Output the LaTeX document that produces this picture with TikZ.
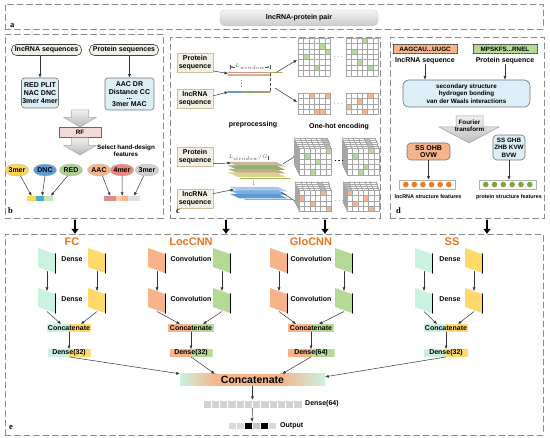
\documentclass[tikz,border=0pt]{standalone}
\usepackage{fontspec}
\setmainfont{Liberation Sans}
\newfontfamily\letrapanel{Liberation Serif}
\usetikzlibrary{arrows.meta,positioning,calc,shapes.geometric}
\definecolor{menta}{HTML}{C9F2E0}
\definecolor{amarillo}{HTML}{FFDA6A}
\definecolor{naranja}{HTML}{F7B38A}
\definecolor{verdec}{HTML}{B4DA96}
\definecolor{titulo}{HTML}{E8731E}
\definecolor{celeste}{HTML}{DDEFF6}
\definecolor{crema}{HTML}{F4F2E6}
\definecolor{rosa}{HTML}{F2DBD9}
\definecolor{caqui}{HTML}{C7B78C}
\definecolor{marco}{HTML}{8C8C8C}
\definecolor{oro}{HTML}{FFD44F}
\definecolor{azulb}{HTML}{5B9BD5}
\definecolor{azulc}{HTML}{4BACC6}
\definecolor{verdeb}{HTML}{A9D18E}
\definecolor{verdel}{HTML}{9BBB59}
\definecolor{salmon}{HTML}{E8877E}
\definecolor{rojizo}{HTML}{D9908C}
\definecolor{gris}{HTML}{D0D0D0}
\definecolor{punton}{HTML}{EC7B23}
\definecolor{puntov}{HTML}{78A640}
\definecolor{capa1}{HTML}{C9B79C}
\definecolor{capa2}{HTML}{8FB070}
\definecolor{capa3}{HTML}{C2A98E}
\definecolor{capa4}{HTML}{DAD58C}
\definecolor{azul1}{HTML}{A8CBEA}
\definecolor{azul2}{HTML}{7EB0DF}

\tikzset{
  panel/.style={rectangle,draw=marco,dash pattern=on 6pt off 3.5pt,line width=0.8pt,inner sep=0pt,outer sep=0pt},
  letra/.style={font=\fontsize{8.5}{8.5}\selectfont\letrapanel\bfseries,inner sep=0pt,anchor=base west},
  txt/.style={font=\fontsize{7}{7.8}\selectfont\bfseries,align=center,inner sep=0pt},
  chico/.style={font=\fontsize{6.3}{7.4}\selectfont\bfseries,align=center,inner sep=0pt},
  pildora/.style={txt,draw=black!75,fill=crema,rounded corners=5pt,minimum height=11,line width=0.6pt},
  cajab/.style={txt,draw=black!55,fill=celeste,rounded corners=3pt,line width=0.6pt},
  secc/.style={txt,draw=caqui,fill=crema,dash pattern=on 2pt off 1pt,line width=0.7pt,minimum width=36,minimum height=19},
  secd/.style={chico,draw=black!70,dash pattern=on 2pt off 1pt,line width=0.6pt,minimum width=64,minimum height=9},
  elip/.style={txt,ellipse,minimum width=23,minimum height=12,draw=black!25,line width=0.4pt},
  celda/.style={inner sep=0pt,minimum height=5},
  duo/.style 2 args={txt,inner xsep=1pt,minimum height=7.5,
     path picture={\fill[#1] (path picture bounding box.south west) rectangle (path picture bounding box.north);
                   \fill[#2] (path picture bounding box.south) rectangle (path picture bounding box.north east);}},
  flecha/.style={-{Latex[length=3.5pt,width=3pt]},black!80,line width=0.5pt},
  gruesa/.style={-{Latex[length=5pt,width=8pt]},line width=2.2pt},
  titcol/.style={font=\fontsize{11}{11}\selectfont\bfseries,text=titulo,inner sep=0pt},
  linea/.style={gray!70,line width=0.35pt},
}

% rejilla one-hot: x0, y0, filas, color, celdas (col/fila)
\newcommand{\rejilla}[5]{%
  \fill[white] (#1,#2) rectangle ++(32.4,#3*5.4);
  \fill[white] (#1+48,#2) rectangle ++(32.4,#3*5.4);
  \foreach \c/\r in {#5} {\pgfmathsetmacro\xx{#1+\c*5.4+(\c>5)*15.6}
    \fill[#4] (\xx,#2+\r*5.4) rectangle ++(5.4,5.4);}
  \foreach \k in {0,...,6} {
    \draw[linea] (#1+\k*5.4,#2) -- ++(0,#3*5.4);
    \draw[linea] (#1+48+\k*5.4,#2) -- ++(0,#3*5.4);}
  \foreach \k in {0,...,#3} {
    \draw[linea] (#1,#2+\k*5.4) -- ++(32.4,0);
    \draw[linea] (#1+48,#2+\k*5.4) -- ++(32.4,0);}
}
% capa de red: nombre, x, y, color
\newcommand{\capa}[4]{%
  \fill[#4] (#2,#3) -- ++(17,6) -- ++(0,19) -- ++(-17,-6) -- cycle;
  \draw[line width=1.5pt] (#2+17.6,#3+6) -- ++(0,19);
  \coordinate (#1t) at (#2+9,#3+3);
  \coordinate (#1b) at (#2+9,#3+23.5);
}
% flecha gris: x centro, y arriba
\newcommand{\flechagris}[2]{%
  \shadedraw[top color=gray!12,bottom color=gray!55,draw=gray!70,line width=0.5pt]
    (#1-8.5,#2) -- (#1+8.5,#2) -- (#1+8.5,#2+7.5) -- (#1+16,#2+7.5) -- (#1,#2+17)
    -- (#1-16,#2+7.5) -- (#1-8.5,#2+7.5) -- cycle;
}

\begin{document}
\begin{tikzpicture}[x=1pt,y=-1pt,>=Latex,line cap=round]
  \useasboundingbox (0,0) rectangle (550,438);
  % --- paneles ---
  \node[panel,minimum width=538,minimum height=25] (pa) at (274,16.5) {};
  \node[panel,minimum width=158,minimum height=184] (pb) at (84,126) {};
  \node[panel,minimum width=210,minimum height=181] (pc) at (275,127.5) {};
  \node[panel,minimum width=154,minimum height=181] (pd) at (467,127.5) {};
  \node[panel,minimum width=538,minimum height=201] (pe) at (274,334.5) {};
  \node[letra] at ([shift={(5,-1.5)}]pa.south west) {a};
  \node[letra] at ([shift={(3,-4)}]pb.south west) {b};
  \node[letra] at ([shift={(6,-4)}]pc.south west) {c};
  \node[letra] at ([shift={(6,-4)}]pd.south west) {d};
  \node[letra] at ([shift={(4,-5)}]pe.south west) {e};
  \node[txt,minimum width=158,minimum height=16,rounded corners=5pt,draw=gray!45,
        top color=gray!8,bottom color=gray!42] (par) at (299,18) {lncRNA-protein pair};
  % --- flechas entre paneles ---
  \foreach \x/\n in {75/1,226/2,325/3,487/4}{
    \coordinate (s\n) at (\x,220.5);
    \draw[gruesa] (s\n) -- (s\n |- pe.north);
  }
  % --- panel b: rasgos manuales ---
  \node[pildora,minimum width=70] (bl) at (46.5,50) {lncRNA sequences};
  \node[pildora,minimum width=69] (bp) at (124,50) {Protein sequences};
  \node[cajab,minimum width=37,minimum height=30] (bf1) at (40,93) {RED PLIT\\NAC DNC\\3mer 4mer};
  \node[cajab,minimum width=49,minimum height=32] (bf2) at (129.5,94)
       {AAC DR\\Distance CC\\[-2pt]...\\[-1pt]3mer MAC};
  \draw[flecha] (bl.south -| bf1.north) -- (bf1.north);
  \draw[flecha] (bp.south -| bf2.north) -- (bf2.north);
  \flechagris{80}{110}
  \node[chico,draw=black!60,fill=rosa,minimum width=42,minimum height=9.5,line width=0.5pt] (brf) at (80,132.5) {RF};
  \flechagris{80}{138}
  \node[chico] (bsel) at (126,150.5) {Select hand-design\\features};
  \foreach \c/\t/\x [count=\i] in {oro/3mer/17,azulb/DNC/45,verdeb/RED/71,naranja/AAC/99,salmon/4mer/122,gris/3mer/147}
    \node[elip,fill=\c] (e\i) at (\x,170) {\t};
  \foreach \c [count=\i] in {oro,oro,azulc,azulc,verdeb!60,verdeb!60}
    \node[celda,minimum width=4.35,fill=\c] (bl\i) at (24.8+\i*4.35,198.5) {};
  \foreach \c [count=\i] in {rojizo,rojizo,naranja!70,naranja,gray!25,gray!25}
    \node[celda,minimum width=6,fill=\c] (br\i) at (101+\i*6,198.5) {};
  \draw[flecha] (e1.-60) -- (bl1.north east);
  \draw[flecha] (e2.south) -- (bl4.north);
  \draw[flecha] (e3.-120) -- (bl6.north);
  \draw[flecha] (e4.-60) -- (br1.north east);
  \draw[flecha] (e5.south) -- (br3.north east);
  \draw[flecha] (e6.-120) -- (br5.north east);
  % --- panel c: ventanas y one-hot ---
  \node[secc] (cp1) at (195,62.5) {Protein\\sequence};
  \node[secc] (cl1) at (195,99) {lncRNA\\sequence};
  \node[secc] (cp2) at (195,157) {Protein\\sequence};
  \node[secc] (cl2) at (195,198.5) {lncRNA\\sequence};
  \draw[rojizo,line width=1.1pt] (228,72.8) -- (270,72.8);
  \draw[caqui,line width=1.6pt] (228,75.3) -- (270,75.3);
  \draw[verdel,line width=1.1pt] (270,72.3) -- (282,72.3);
  \draw[azulb,line width=1.6pt] (228,92) -- (242,92);
  \draw[verdel!70!gray,line width=1.6pt] (242,92) -- (270,92);
  \draw[azulb,dotted,line width=0.8pt] (241,80) -- (241,88);
  \draw[black!70,densely dashed,line width=0.4pt] (270,73) -- (270,92);
  \draw[|<->|,>={Latex[length=2pt,width=2pt]},line width=0.4pt,black!70] (230,67) --
     node[fill=white,inner sep=0.5pt,font=\fontsize{5}{5}\selectfont]{$L_{window}$} (270,67);
  \coordinate (v1) at (228,73.5); \coordinate (v2) at (228,92);
  \draw[flecha] (cp1.-25) -- (v1);
  \draw[flecha] (cl1.10) -- (v2);
  \coordinate (w1) at (276,72.5); \coordinate (g1) at (297,60);
  \coordinate (w2) at (275,88);   \coordinate (g2) at (297,102);
  \draw[flecha] (w1) -- (g1);
  \draw[flecha] (w2) -- (g2);
  \rejilla{298}{38}{7}{verdec}{4/1,5/2,1/3,3/5,9/0,7/2,8/4,10/5}
  \rejilla{298}{93}{4}{naranja}{2/0,5/0,3/3,4/3,6/2,8/1,9/3,10/0}
  \node[font=\fontsize{6}{6}\selectfont] (pt1) at (338.2,56.9) {$\cdots$};
  \node[font=\fontsize{6}{6}\selectfont] (pt2) at (338.2,103.8) {$\cdots$};
  \node[txt] (tpre) at (253,125) {preprocessing};
  \node[txt] (toh) at (339,127) {One-hot encoding};
  % --- panel c: ventanas por grupos ---
  \foreach \yy/\cc in {162/capa1,165.5/capa2,169/capa3,172.5/capa4}
    \fill[\cc] (228,\yy) -- ++(48,0) -- ++(10,4.5) -- ++(-48,0) -- cycle;
  \draw[verdel,line width=1pt] (240,178.5) -- (290,178.5);
  \draw[azulb,dotted,line width=0.8pt] (253,181) -- (253,186);
  \foreach \yy/\cc in {187/azul1,190.5/azul2,194/azulb}
    \fill[\cc] (230,\yy) -- ++(48,0) -- ++(10,4.5) -- ++(-48,0) -- cycle;
  \draw[verdel,line width=1pt] (245,200) -- (292,200);
  \draw[|<->|,>={Latex[length=2pt,width=2pt]},line width=0.4pt,black!70] (228,158) --
     node[fill=white,inner sep=0.5pt,font=\fontsize{5}{5}\selectfont]{$L_{window}/G$} (268,158);
  \coordinate (v3) at (231,163); \coordinate (v4) at (234,189.5);
  \draw[flecha] (cp2.-20) -- (v3);
  \draw[flecha] (cl2.15) -- (v4);
  \coordinate (w3) at (283,164); \coordinate (g3) at (297,155);
  \coordinate (w4) at (281,192); \coordinate (g4) at (298,203);
  \draw[flecha] (w3) -- (g3);
  \draw[flecha] (w4) -- (g4);
  \foreach \p in {5,4,...,0}
    \rejilla{299-\p*0.9}{148-\p*2}{5}{verdec}{1/1,3/2,5/0,2/4,7/1,9/3,10/0,8/4}
  \foreach \p in {4,3,...,0}
    \rejilla{299-\p*0.9}{190-\p*2}{4}{naranja}{0/1,2/2,4/0,5/3,7/2,9/1,10/3,6/0}
  \node[font=\fontsize{6}{6}\selectfont] (pt3) at (339.2,161.5) {$\cdots$};
  \node[font=\fontsize{6}{6}\selectfont] (pt4) at (339.2,200.8) {$\cdots$};
  % --- panel d: rasgos estructurales ---
  \node[secd,fill=naranja] (dlnc) at (425,49) {AAGCAU...UUGC};
  \node[txt] (dlnct) at (425,61) {lncRNA sequence};
  \node[secd,fill=verdec] (dpro) at (505,49) {MPSKFS...RNEL};
  \node[txt] (dprot) at (505,61) {Protein sequence};
  \node[cajab,chico,minimum width=127,minimum height=27,rounded corners=6pt] (dprop) at (466.5,93.5)
       {secondary structure\\hydrogen bonding\\van der Waals interactions};
  \draw[flecha] (dlnct.south) -- (dlnct.south |- dprop.north);
  \draw[flecha] (dprot.south) -- (dprot.south |- dprop.north);
  \shadedraw[top color=gray!12,bottom color=gray!50,draw=gray!75,line width=0.5pt]
    (456,116) -- (483,116) -- (483,127) -- (499,127) -- (469,143) -- (439,127) -- (456,127) -- cycle;
  \node[chico] (dfou) at (469.5,126) {Fourier\\transform};
  \node[cajab,fill=naranja,minimum width=43,minimum height=17,rounded corners=4pt] (dss1) at (428.5,151.5) {SS OHB\\OVW};
  \node[cajab,chico,minimum width=32,minimum height=25,rounded corners=4pt] (dss2) at (509,147.5) {SS GHB\\ZHB KVW\\BVW};
  \node[draw=gray!60,line width=0.5pt,fill=white,minimum width=56,minimum height=9,inner sep=0pt] (dpt1) at (427.5,184.5) {};
  \node[draw=gray!60,line width=0.5pt,fill=white,minimum width=57,minimum height=9,inner sep=0pt] (dpt2) at (508,184.5) {};
  \foreach \i in {0,...,5}{
    \fill[punton] ($(dpt1.west)+(6.5+\i*8.6,0)$) circle (2.8pt);
    \fill[puntov] ($(dpt2.west)+(6.5+\i*8.8,0)$) circle (2.8pt);
  }
  \draw[flecha] (dss1.south) -- (dss1.south |- dpt1.north);
  \draw[flecha] (dss2.south) -- (dss2.south |- dpt2.north);
  \node[font=\fontsize{5.4}{6}\selectfont\bfseries,inner sep=0pt] (dlab1) at (428,197) {lncRNA structure features};
  \node[font=\fontsize{5.4}{6}\selectfont\bfseries,inner sep=0pt] (dlab2) at (509,197) {protein structure features};
  % --- panel e: modelo ---
  \node[titcol] (tfc) at (72,242) {FC};
  \node[titcol] (tloc) at (191,242) {LocCNN};
  \node[titcol] (tglo) at (311,242) {GloCNN};
  \node[titcol] (tss) at (452,242) {SS};
  \capa{fa1}{38}{248}{menta}   \capa{fb1}{88}{248}{amarillo}
  \capa{fa2}{38}{288}{menta}   \capa{fb2}{88}{288}{amarillo}
  \capa{la1}{148}{248}{naranja} \capa{lb1}{213}{248}{verdec}
  \capa{la2}{148}{288}{naranja} \capa{lb2}{213}{288}{verdec}
  \capa{ga1}{270}{248}{naranja} \capa{gb1}{335}{248}{verdec}
  \capa{ga2}{270}{288}{naranja} \capa{gb2}{335}{288}{verdec}
  \capa{sa1}{415}{248}{menta}   \capa{sb1}{465}{248}{amarillo}
  \capa{sa2}{415}{288}{menta}   \capa{sb2}{465}{288}{amarillo}
  \foreach \x/\t/\n in {72/Dense/fc,191/Convolution/loc,311/Convolution/glo,450/Dense/ss}{
    \node[txt] (\n d1) at (\x,259) {\t};
    \node[txt] (\n d2) at (\x,299) {\t};
  }
  \foreach \i in {f,l,g,s}{
    \draw[flecha] (\i a1b) -- (\i a2t);
    \draw[flecha] (\i b1b) -- (\i b2t);
  }
  \node[duo={menta}{amarillo},minimum width=44] (fccat) at (69,328) {Concatenate};
  \node[duo={naranja}{verdec},minimum width=46] (loccat) at (191,328) {Concatenate};
  \node[duo={naranja}{verdec},minimum width=46] (glocat) at (311,328) {Concatenate};
  \node[duo={menta}{amarillo},minimum width=44] (sscat) at (446,328) {Concatenate};
  \node[duo={menta}{amarillo},minimum width=43] (fcden) at (69,353) {Dense(32)};
  \node[duo={naranja}{verdec},minimum width=43] (locden) at (191,353) {Dense(32)};
  \node[duo={naranja}{verdec},minimum width=47] (gloden) at (311,353) {Dense(64)};
  \node[duo={menta}{amarillo},minimum width=44] (ssden) at (446,353) {Dense(32)};
  \foreach \n/\i/\a/\b in {fc/f/-8/12,loc/l/-11/12,glo/g/-15/8,ss/s/-9/12}{
    \draw[flecha] (\i a2b) -- ($(\n cat.north)+(\a,0)$);
    \draw[flecha] (\i b2b) -- ($(\n cat.north)+(\b,0)$);
    \draw[flecha] (\n cat.south) -- (\n den.north);
  }
  % --- concatenacion final ---
  \shade[left color=menta,right color=naranja] (180,374) rectangle (216.5,386);
  \fill[naranja] (216,374) rectangle (280.5,386);
  \shade[left color=naranja,right color=menta] (280,374) rectangle (325,386);
  \node[font=\fontsize{10.5}{10.5}\selectfont\bfseries,minimum width=145,minimum height=12,inner sep=0pt] (cattot) at (252.5,380) {Concatenate};
  \draw[flecha] (fcden.south) -- (cattot.north west);
  \draw[flecha] (locden.south) -- ($(cattot.north west)+(35,0)$);
  \draw[flecha] (gloden.south) -- ($(cattot.north east)+(-43,0)$);
  \draw[flecha] (ssden.south) -- ($(cattot.north east)+(0,3)$);
  \node[minimum width=99,minimum height=8,inner sep=0pt] (den64) at (252.5,404) {};
  \foreach \i in {0,...,11}
    \fill[gray!35,draw=white,line width=0.4pt] ($(den64.north west)+(\i*8.25,0)$) rectangle ++(8.25,8);
  \node[txt,anchor=west] (tden) at (305,404) {Dense(64)};
  \node[minimum width=48,minimum height=7,inner sep=0pt] (outr) at (252,425.5) {};
  \foreach \c [count=\i from 0] in {gray!30,gray!30,black,gray!45,black,gray!30}
    \fill[\c,draw=white,line width=0.4pt] ($(outr.north west)+(\i*8,0)$) rectangle ++(8,7);
  \node[txt,anchor=west] (tout) at (280,426) {Output};
  \draw[flecha] (cattot.south) -- (den64.north);
  \draw[flecha] (den64.south) -- (outr.north);
\end{tikzpicture}
\end{document}
